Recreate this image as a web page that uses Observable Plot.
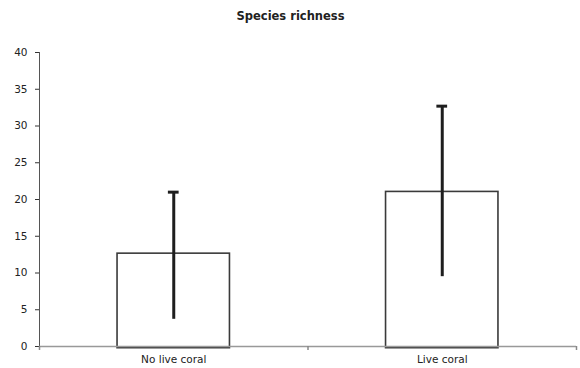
<!DOCTYPE html>
<html>
<head>
<meta charset="utf-8">
<script src="https://cdn.jsdelivr.net/npm/d3@7"></script>
<script src="https://cdn.jsdelivr.net/npm/@observablehq/plot@0.6"></script>
<style>
  body { margin: 0; background: #fff; }
  svg { font-family: "DejaVu Sans", Verdana, sans-serif; }
</style>
</head>
<body>
<div id="chart"></div>
<script>
const categories = ["No live coral", "Live coral"];
const means = [12.4, 20.8];
const errLow = [3.7, 9.5];
const errHigh = [21.0, 32.7];
const yTicks = [0, 5, 10, 15, 20, 25, 30, 35, 40];
const title = "Species richness";

const data = categories.map((c, i) => ({
  cat: c, pos: i + 0.5, mean: means[i], lo: errLow[i], hi: errHigh[i]
}));
const boundaries = d3.range(0, categories.length + 1);
const centers = categories.map((c, i) => i + 0.5);
const barHalf = 0.203;
const capHalf = 0.02;
const mL = 39, mR = 4;

const chart = Plot.plot({
  width: 580,
  height: 368,
  marginLeft: mL,
  marginRight: mR,
  marginTop: 52,
  marginBottom: 22,
  style: { fontFamily: "DejaVu Sans, Verdana, sans-serif", fontSize: "10px", color: "#222", background: "#fff" },
  x: { type: "linear", domain: [0, categories.length] },
  y: { type: "linear", domain: [0, 40] },
  marks: [
    // y axis
    Plot.axisY({ ticks: yTicks, tickSize: 4, tickPadding: 8, fontSize: 10.5, stroke: "#333", fill: "#222", label: null }),
    Plot.ruleX([0], { y1: 0, y2: 40, stroke: "#555", strokeWidth: 1 }),
    // bars: double outline
    Plot.rectY(data, { x1: d => d.pos - barHalf, x2: d => d.pos + barHalf, y1: 0, y2: "mean", fill: "white", stroke: "#3a3a3a", strokeWidth: 5 }),
    Plot.rectY(data, { x1: d => d.pos - barHalf, x2: d => d.pos + barHalf, y1: 0, y2: "mean", fill: "white", stroke: "white", strokeWidth: 1.8 }),
    // x axis
    Plot.ruleY([0], { x1: 0, x2: categories.length, stroke: "#999", strokeWidth: 1.5 }),
    Plot.axisX({ ticks: boundaries, tickSize: 4, tickFormat: () => "", stroke: "#888", strokeWidth: 1.5, label: null }),
    Plot.axisX({ ticks: centers, tickSize: 0, tickPadding: 9, tickFormat: d => categories[Math.floor(d)], fontSize: 10.5, fill: "#222", label: null }),
    // error bars
    Plot.ruleX(data, { x: "pos", y1: "lo", y2: "hi", stroke: "#1e1e1e", strokeWidth: 3 }),
    Plot.ruleY(data, { x1: d => d.pos - capHalf, x2: d => d.pos + capHalf, y: "hi", stroke: "#1e1e1e", strokeWidth: 3 }),
    // title
    Plot.text([title], { frameAnchor: "top", text: d => d, dy: -41, dx: (mR - mL) / 2, fontSize: 11.5, fontWeight: "bold", fill: "#222" })
  ]
});
document.getElementById("chart").append(chart);
</script>
</body>
</html>
